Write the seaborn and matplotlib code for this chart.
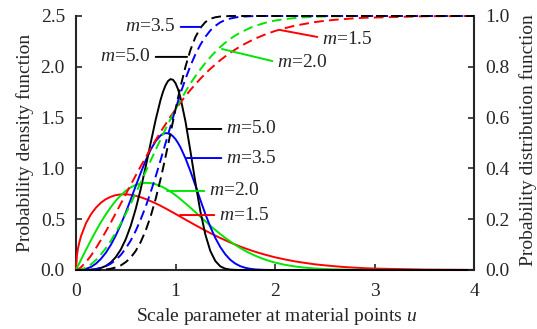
import matplotlib
matplotlib.use("Agg")
import matplotlib.pyplot as plt
import seaborn as sns
import pandas as pd

# Scale parameter u at the material points
u = [0.00, 0.01, 0.02, 0.03, 0.05, 0.10, 0.15, 0.20, 0.25, 0.30, 0.35, 0.40, 0.45, 0.50,
     0.55, 0.60, 0.65, 0.70, 0.75, 0.80, 0.85, 0.875, 0.90, 0.925, 0.95, 0.975, 1.00,
     1.025, 1.05, 1.10, 1.15, 1.20, 1.25, 1.30, 1.35, 1.40, 1.45, 1.50, 1.55, 1.60,
     1.65, 1.70, 1.75, 1.80, 1.85, 1.90, 1.95, 2.00, 2.10, 2.20, 2.30, 2.40, 2.50,
     2.60, 2.70, 2.80, 2.90, 3.00, 3.50, 4.00]

# Probability density functions
pdf_15 = [0.000, 0.150, 0.212, 0.258, 0.332, 0.460, 0.548, 0.613, 0.662, 0.697, 0.721,
          0.737, 0.744, 0.745, 0.740, 0.730, 0.716, 0.699, 0.678, 0.656, 0.632, 0.619,
          0.606, 0.593, 0.579, 0.566, 0.552, 0.538, 0.524, 0.496, 0.469, 0.441, 0.415,
          0.388, 0.363, 0.339, 0.315, 0.293, 0.271, 0.251, 0.231, 0.213, 0.196, 0.180,
          0.165, 0.151, 0.138, 0.125, 0.104, 0.085, 0.070, 0.056, 0.046, 0.037, 0.029,
          0.023, 0.018, 0.014, 0.004, 0.001]
pdf_20 = [0.000, 0.020, 0.040, 0.060, 0.100, 0.198, 0.293, 0.384, 0.470, 0.548, 0.619,
          0.682, 0.735, 0.779, 0.813, 0.837, 0.852, 0.858, 0.855, 0.844, 0.825, 0.814,
          0.801, 0.786, 0.771, 0.754, 0.736, 0.717, 0.697, 0.656, 0.613, 0.569, 0.524,
          0.480, 0.436, 0.394, 0.354, 0.316, 0.281, 0.247, 0.217, 0.189, 0.164, 0.141,
          0.121, 0.103, 0.087, 0.073, 0.051, 0.035, 0.023, 0.015, 0.010, 0.006, 0.004,
          0.002, 0.001, 0.001, 0.000, 0.000]
pdf_35 = [0.000, 0.000, 0.000, 0.000, 0.002, 0.011, 0.030, 0.062, 0.109, 0.170, 0.247,
          0.340, 0.447, 0.566, 0.694, 0.826, 0.955, 1.077, 1.183, 1.267, 1.324, 1.340,
          1.347, 1.345, 1.335, 1.316, 1.288, 1.251, 1.207, 1.100, 0.972, 0.832, 0.689,
          0.551, 0.425, 0.316, 0.226, 0.155, 0.101, 0.064, 0.038, 0.022, 0.012, 0.006,
          0.003, 0.001, 0.000, 0.000, 0.000, 0.000, 0.000, 0.000, 0.000, 0.000, 0.000,
          0.000, 0.000, 0.000, 0.000, 0.000]
pdf_50 = [0.000, 0.000, 0.000, 0.000, 0.000, 0.001, 0.003, 0.008, 0.020, 0.040, 0.075,
          0.127, 0.201, 0.303, 0.435, 0.600, 0.795, 1.015, 1.248, 1.476, 1.675, 1.755,
          1.818, 1.860, 1.879, 1.872, 1.839, 1.780, 1.696, 1.463, 1.170, 0.861, 0.577,
          0.349, 0.187, 0.089, 0.036, 0.013, 0.004, 0.001, 0.000, 0.000, 0.000, 0.000,
          0.000, 0.000, 0.000, 0.000, 0.000, 0.000, 0.000, 0.000, 0.000, 0.000, 0.000,
          0.000, 0.000, 0.000, 0.000, 0.000]

# Probability distribution functions
cdf_15 = [0.000, 0.001, 0.003, 0.005, 0.011, 0.031, 0.056, 0.086, 0.118, 0.152, 0.187,
          0.224, 0.261, 0.298, 0.335, 0.372, 0.408, 0.443, 0.478, 0.511, 0.543, 0.559,
          0.574, 0.589, 0.604, 0.618, 0.632, 0.646, 0.659, 0.685, 0.709, 0.731, 0.753,
          0.773, 0.792, 0.809, 0.826, 0.841, 0.855, 0.868, 0.880, 0.891, 0.901, 0.911,
          0.919, 0.927, 0.934, 0.941, 0.952, 0.962, 0.969, 0.976, 0.981, 0.985, 0.988,
          0.991, 0.993, 0.994, 0.999, 1.000]
cdf_20 = [0.000, 0.000, 0.000, 0.001, 0.002, 0.010, 0.022, 0.039, 0.061, 0.086, 0.115,
          0.148, 0.183, 0.221, 0.261, 0.302, 0.345, 0.387, 0.430, 0.473, 0.514, 0.535,
          0.555, 0.575, 0.594, 0.614, 0.632, 0.650, 0.668, 0.702, 0.734, 0.763, 0.790,
          0.815, 0.838, 0.859, 0.878, 0.895, 0.910, 0.923, 0.934, 0.944, 0.953, 0.961,
          0.967, 0.973, 0.978, 0.982, 0.988, 0.992, 0.995, 0.997, 0.998, 0.999, 0.999,
          1.000, 1.000, 1.000, 1.000, 1.000]
cdf_35 = [0.000, 0.000, 0.000, 0.000, 0.000, 0.000, 0.001, 0.004, 0.008, 0.015, 0.025,
          0.040, 0.059, 0.085, 0.116, 0.154, 0.199, 0.249, 0.306, 0.367, 0.432, 0.466,
          0.499, 0.533, 0.566, 0.600, 0.632, 0.664, 0.695, 0.752, 0.804, 0.849, 0.887,
          0.918, 0.943, 0.961, 0.975, 0.984, 0.990, 0.994, 0.997, 0.998, 0.999, 1.000,
          1.000, 1.000, 1.000, 1.000, 1.000, 1.000, 1.000, 1.000, 1.000, 1.000, 1.000,
          1.000, 1.000, 1.000, 1.000, 1.000]
cdf_50 = [0.000, 0.000, 0.000, 0.000, 0.000, 0.000, 0.000, 0.000, 0.001, 0.002, 0.005,
          0.010, 0.018, 0.031, 0.049, 0.075, 0.110, 0.155, 0.211, 0.279, 0.358, 0.401,
          0.446, 0.492, 0.539, 0.586, 0.632, 0.677, 0.721, 0.800, 0.866, 0.917, 0.953,
          0.976, 0.989, 0.995, 0.998, 0.999, 1.000, 1.000, 1.000, 1.000, 1.000, 1.000,
          1.000, 1.000, 1.000, 1.000, 1.000, 1.000, 1.000, 1.000, 1.000, 1.000, 1.000,
          1.000, 1.000, 1.000, 1.000, 1.000]

shape_labels = ["1.5", "2.0", "3.5", "5.0"]
colors = {"1.5": "#ff0000", "2.0": "#00e600", "3.5": "#0000ff", "5.0": "#000000"}

x_ticks = [0, 1, 2, 3, 4]
pdf_ticks = [0.0, 0.5, 1.0, 1.5, 2.0, 2.5]
cdf_ticks = [0.0, 0.2, 0.4, 0.6, 0.8, 1.0]

sns.set_style("ticks")
plt.rcParams["font.family"] = ["Liberation Serif", "DejaVu Serif"]
plt.rcParams["mathtext.fontset"] = "custom"
plt.rcParams["mathtext.rm"] = "Liberation Serif"
plt.rcParams["mathtext.it"] = "Liberation Serif:italic"
plt.rcParams["font.size"] = 14

fig = plt.figure(figsize=(5.37, 3.29), dpi=100)
ax = fig.add_axes([76 / 537, 59 / 329, 398 / 537, 254 / 329])
ax2 = ax.twinx()

pdfs = {"1.5": pdf_15, "2.0": pdf_20, "3.5": pdf_35, "5.0": pdf_50}
cdfs = {"1.5": cdf_15, "2.0": cdf_20, "3.5": cdf_35, "5.0": cdf_50}

lw = 1.4
dash = (0, (5.0, 2.7))
for m in shape_labels:
    d = pd.DataFrame({"u": u, "f": pdfs[m], "F": cdfs[m]})
    sns.lineplot(data=d, x="u", y="f", ax=ax, color=colors[m], lw=lw,
                 clip_on=False, zorder=3)
    sns.lineplot(data=d, x="u", y="F", ax=ax2, color=colors[m], lw=lw,
                 linestyle=dash, clip_on=False, zorder=3)

ax.set_xlim(0, 4)
ax.set_ylim(0, 2.5)
ax2.set_ylim(0, 1.0)
ax.set_xticks(x_ticks)
ax.set_xticklabels([str(t) for t in x_ticks])
ax.set_yticks(pdf_ticks)
ax.set_yticklabels([f"{t:.1f}" for t in pdf_ticks])
ax2.set_yticks(cdf_ticks)
ax2.set_yticklabels([f"{t:.1f}" for t in cdf_ticks])

for a in (ax, ax2):
    a.spines["top"].set_visible(False)
    for s in ("left", "right", "bottom"):
        a.spines[s].set_linewidth(1.5)
ax.spines["right"].set_visible(False)
ax2.spines["left"].set_visible(False)
ax2.spines["bottom"].set_visible(False)

ax.tick_params(axis="both", direction="in", length=4, width=1.2, labelsize=14)
ax.tick_params(axis="y", pad=8)
ax.tick_params(axis="x", pad=9.5)
ax2.tick_params(axis="y", direction="in", length=4, width=1.2, labelsize=14, pad=8)

ax.set_xlabel(r"Scale parameter at material points $u$", fontsize=14, va="center")
ax.xaxis.set_label_coords(0.505, -0.184)
ax.set_ylabel("Probability density function", fontsize=14, va="center")
ax.yaxis.set_label_coords(-0.128, 0.50)
ax2.set_ylabel("Probability distribution function", fontsize=14, va="center",
               rotation=90)
ax2.yaxis.set_label_coords(1.137, 0.51)

# Leader-line labels for the density curves (left axis)
pdf_notes = [
    ("5.0", (1.116, 1.388), (1.508, 1.388)),
    ("3.5", (1.11, 1.102), (1.508, 1.102)),
    ("2.0", (0.915, 0.778), (1.337, 0.778)),
    ("1.5", (1.045, 0.541), (1.437, 0.541)),
]
for m, xy, xyt in pdf_notes:
    ax.annotate(rf"$m$={m}", xy=xy, xytext=xyt, ha="left", va="center", fontsize=14,
                arrowprops=dict(arrowstyle="-", color=colors[m], lw=lw,
                                shrinkA=1, shrinkB=0, relpos=(0, 0.5)),
                zorder=5)

# Leader-line labels for the distribution curves (right axis)
cdf_notes = [
    ("3.5", (1.246, 0.957), (1.005, 0.957), "right", (1, 0.5)),
    ("5.0", (1.116, 0.839), (0.754, 0.839), "right", (1, 0.5)),
    ("1.5", (2.050, 0.945), (2.472, 0.906), "left", (0, 0.62)),
    ("2.0", (1.467, 0.870), (2.020, 0.815), "left", (0, 0.55)),
]
for m, xy, xyt, ha, rp in cdf_notes:
    ax2.annotate(rf"$m$={m}", xy=xy, xytext=xyt, ha=ha, va="center", fontsize=14,
                 arrowprops=dict(arrowstyle="-", color=colors[m], lw=lw,
                                 shrinkA=1, shrinkB=0, relpos=rp),
                 zorder=5)

fig.savefig("out.png", dpi=100)
